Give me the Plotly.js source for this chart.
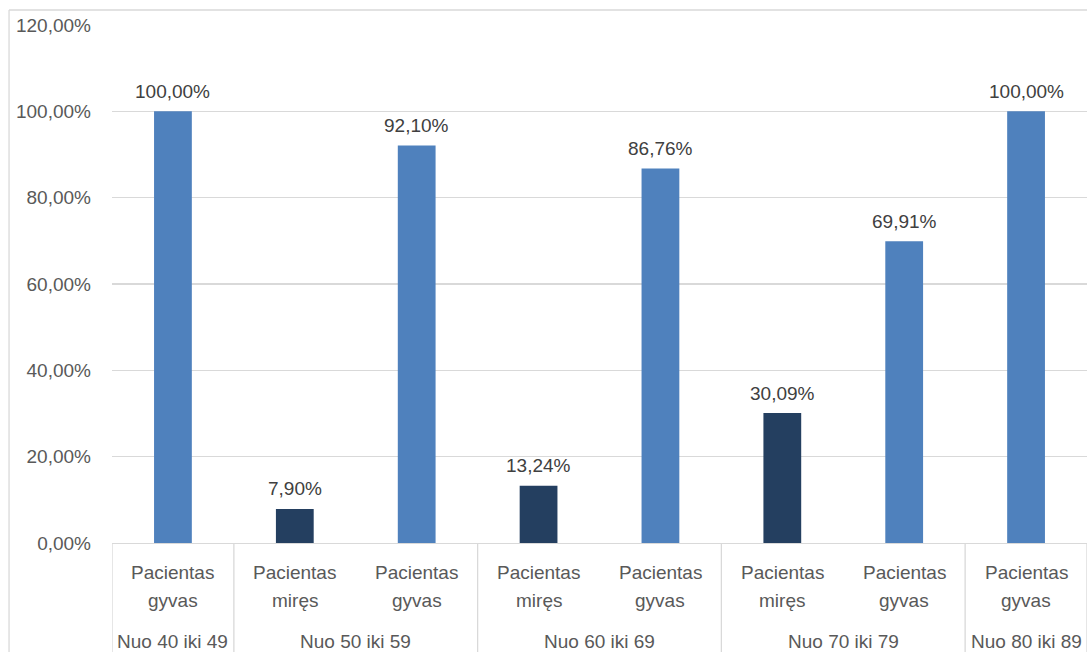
<!DOCTYPE html>
<html>
<head>
<meta charset="utf-8">
<script src="https://cdn.plot.ly/plotly-3.0.1.min.js"></script>
<style>
  html, body { margin: 0; padding: 0; background: #ffffff; }
  #chart { width: 1087px; height: 652px; }
</style>
</head>
<body>
<div id="chart"></div>
<script>
// Age groups (outer level of the category axis)
const ageGroups = ["Nuo 40 iki 49", "Nuo 50 iki 59", "Nuo 60 iki 69", "Nuo 70 iki 79", "Nuo 80 iki 89"];
// Which age group each bar belongs to
const barGroup = [0, 1, 1, 2, 2, 3, 3, 4];
// Patient outcome for each bar (inner level of the category axis)
const barStatusLine1 = ["Pacientas", "Pacientas", "Pacientas", "Pacientas", "Pacientas", "Pacientas", "Pacientas", "Pacientas"];
const barStatusLine2 = ["gyvas", "miręs", "gyvas", "miręs", "gyvas", "miręs", "gyvas", "gyvas"];
// Share of patients, percent
const barValues = [100.00, 7.90, 92.10, 13.24, 86.76, 30.09, 69.91, 100.00];
// Y axis ticks
const yTicks = [0, 20, 40, 60, 80, 100, 120];

const statusColor = { "gyvas": "#4F81BD", "miręs": "#243F60" };
const FONT = "Liberation Sans, Arial, sans-serif";
const FONT_SIZE = 19;
const TEXT_GREY = "#595959";
const LINE_GREY = "#D9D9D9";

const xPos = barValues.map((_, i) => i);

const fmt = v => v.toFixed(2).replace(".", ",") + "%";

const trace = {
  type: "bar",
  x: xPos,
  y: barValues,
  width: 0.31,
  marker: { color: barStatusLine2.map(s => statusColor[s]) },
  hoverinfo: "skip",
  showlegend: false
};

const annotations = [];

// value labels above the bars
xPos.forEach((x, i) => {
  annotations.push({
    x: x, y: barValues[i], xref: "x", yref: "y",
    text: fmt(barValues[i]), showarrow: false,
    yanchor: "middle", yshift: 20,
    font: { family: FONT, size: FONT_SIZE, color: "#404040" }
  });
});

// inner category labels (two lines each)
xPos.forEach((x, i) => {
  annotations.push({
    x: x, y: 0, xref: "x", yref: "paper",
    text: barStatusLine1[i], showarrow: false,
    yanchor: "middle", yshift: -29,
    font: { family: FONT, size: FONT_SIZE, color: TEXT_GREY }
  });
  annotations.push({
    x: x, y: 0, xref: "x", yref: "paper",
    text: barStatusLine2[i], showarrow: false,
    yanchor: "middle", yshift: -57,
    font: { family: FONT, size: FONT_SIZE, color: TEXT_GREY }
  });
});

// outer group labels and dividers
const shapes = [];
ageGroups.forEach((g, gi) => {
  const members = xPos.filter((_, i) => barGroup[i] === gi);
  const first = Math.min(...members), last = Math.max(...members);
  annotations.push({
    x: (first + last) / 2, y: 0, xref: "x", yref: "paper",
    text: g, showarrow: false,
    yanchor: "middle", yshift: -98,
    font: { family: FONT, size: FONT_SIZE, color: TEXT_GREY }
  });
  shapes.push({
    type: "line", xref: "x", yref: "paper",
    x0: first - 0.5, x1: first - 0.5, y0: 0, y1: -0.3,
    line: { color: LINE_GREY, width: 1.3 }
  });
  if (gi === ageGroups.length - 1) {
    shapes.push({
      type: "line", xref: "x", yref: "paper",
      x0: last + 0.5, x1: last + 0.5, y0: 0, y1: -0.3,
      line: { color: LINE_GREY, width: 1.3 }
    });
  }
});

// chart area border (left and top edges)
shapes.push({
  type: "line", xref: "paper", yref: "paper",
  x0: -0.1056, x1: -0.1056, y0: -0.3, y1: 1.029,
  line: { color: LINE_GREY, width: 1.3 }
});
shapes.push({
  type: "line", xref: "paper", yref: "paper",
  x0: -0.1056, x1: 1.1, y0: 1.029, y1: 1.029,
  line: { color: LINE_GREY, width: 1.3 }
});

const layout = {
  width: 1087,
  height: 652,
  margin: { l: 112, r: 0, t: 25, b: 109, pad: 0 },
  paper_bgcolor: "#ffffff",
  plot_bgcolor: "#ffffff",
  separators: ", ",
  showlegend: false,
  xaxis: {
    range: [-0.5, 7.5],
    showticklabels: false,
    showgrid: false,
    zeroline: false,
    showline: true,
    linecolor: LINE_GREY,
    linewidth: 1.3,
    ticks: "",
    fixedrange: true
  },
  yaxis: {
    range: [0, 120],
    tickvals: yTicks,
    ticktext: yTicks.map(fmt),
    showgrid: true,
    gridcolor: LINE_GREY,
    gridwidth: 1.3,
    zeroline: false,
    showline: false,
    ticks: "",
    ticklabelstandoff: 20,
    tickfont: { family: FONT, size: FONT_SIZE, color: TEXT_GREY },
    fixedrange: true
  },
  annotations: annotations,
  shapes: shapes
};

Plotly.newPlot("chart", [trace], layout, { displayModeBar: false, staticPlot: true });
</script>
</body>
</html>
